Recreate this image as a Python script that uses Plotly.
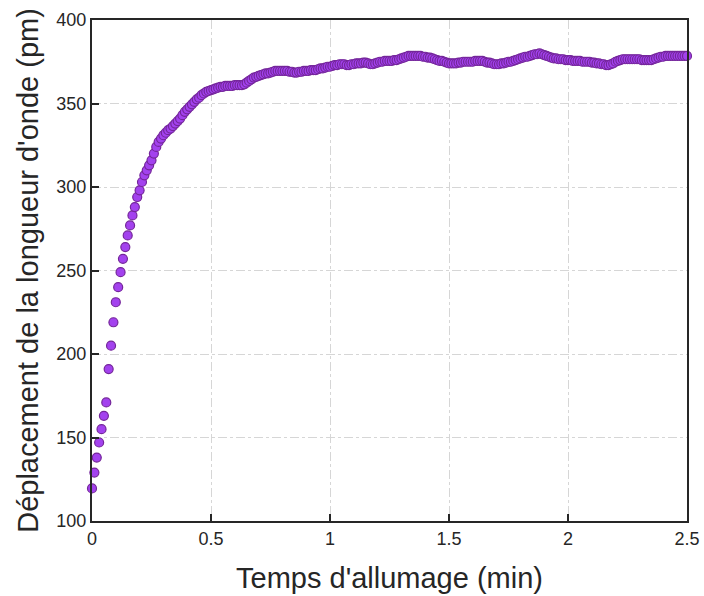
import plotly.graph_objects as go

# Sampling step of the acquisition (min) and measured wavelength shift (pm)
time_step_min = 0.01
shift_pm = [
    119.5, 129, 138, 147, 155, 163, 171, 191, 205, 219,
    231, 240, 249, 257, 264, 271, 277, 283, 288, 294,
    298, 303, 307, 310, 313, 316, 320, 324, 327, 329,
    331, 332.5, 334, 335, 336.5, 338, 339.5, 341, 343, 345,
    346.5, 348, 349.5, 351, 352.5, 353.5, 355, 356, 357, 357.5,
    358, 358.5, 359, 359.5, 360, 360, 360.5, 360.5, 360.5, 360.5,
    361, 361, 361, 361, 361.5, 362.5, 363.5, 364.5, 365.5, 366,
    366.5, 367, 367.5, 368, 368, 368.5, 369, 369.5, 369.5, 369.5,
    369.5, 369.5, 369.5, 369, 369, 368.5, 368.5, 369, 369, 369.5,
    369.5, 369.5, 370, 370, 370, 370.5, 371, 371, 371.5, 372,
    372, 372.5, 373, 373, 373.5, 373.5, 373.5, 373, 373, 373.5,
    373.5, 374, 374, 374, 374.5, 374.5, 374, 373.5, 373.5, 374,
    374.5, 375, 375, 375.5, 375.5, 375.5, 375.5, 376, 376, 376.5,
    377, 377.5, 378, 378.5, 378.5, 378.5, 378.5, 378.5, 378.5, 378,
    378, 377.5, 377.5, 377, 376.5, 376, 375.5, 375.5, 375, 374.5,
    374, 374, 374, 374, 374.5, 374.5, 375, 375, 375, 375,
    375, 375.5, 375.5, 375.5, 375.5, 375, 374.5, 374.5, 374, 373.5,
    373.5, 373.5, 374, 374, 374.5, 375, 375, 375.5, 376, 376.5,
    377, 377.5, 378, 378, 378.5, 379, 379.5, 379.5, 380, 379.5,
    379, 378.5, 378, 377.5, 377, 377, 376.5, 376.5, 376.5, 376,
    376, 376, 375.5, 375.5, 375.5, 375.5, 375, 375, 375, 375,
    374.5, 374.5, 374, 374, 373.5, 373.5, 373, 373, 373.5, 374,
    375, 375.5, 376, 376.5, 376.5, 376.5, 376.5, 376.5, 376.5, 376.5,
    376.5, 376, 376, 376, 376, 376, 376.5, 377, 377.5, 378,
    378, 378.5, 378.5, 378.5, 378.5, 378.5, 378.5, 378.5, 378.5, 378.5,
    378.5,
]
time_min = [round(i * time_step_min, 2) for i in range(len(shift_pm))]

x_tick_vals = [0, 0.5, 1, 1.5, 2, 2.5]
x_tick_text = ["0", "0.5", "1", "1.5", "2", "2.5"]
y_tick_vals = [100, 150, 200, 250, 300, 350, 400]

fig = go.Figure(go.Scatter(
    x=time_min, y=shift_pm, mode="markers",
    marker=dict(size=9, color="#A342EE", line=dict(color="#74269A", width=1.2)),
    cliponaxis=False,
))

axis_common = dict(
    showline=True, linecolor="#262626", linewidth=2, mirror=True,
    ticks="inside", ticklen=7, tickwidth=2, tickcolor="#262626",
    showgrid=True, gridcolor="#d6d6d6", gridwidth=1, griddash="dashdot",
    zeroline=False, automargin=False,
    tickfont=dict(family="Liberation Sans, Arial", size=18, color="#262626"),
    title_font=dict(family="Liberation Sans, Arial", size=29, color="#262626"),
)

fig.update_xaxes(
    range=[0, 2.5], tickvals=x_tick_vals, ticktext=x_tick_text,
    title_text="Temps d'allumage (min)", title_standoff=20, **axis_common,
)
fig.update_yaxes(
    range=[100, 400], tickvals=y_tick_vals,
    title_text="Déplacement de la longueur d'onde (pm)", title_standoff=9, **axis_common,
)

fig.update_layout(
    width=704, height=596,
    margin=dict(l=92, r=17, t=20, b=75),
    paper_bgcolor="white", plot_bgcolor="white",
    showlegend=False,
)

fig.write_html(
    "out.html",
    config={"displayModeBar": False},
    post_script="document.body.style.margin='0';document.body.style.overflow='hidden';",
)
